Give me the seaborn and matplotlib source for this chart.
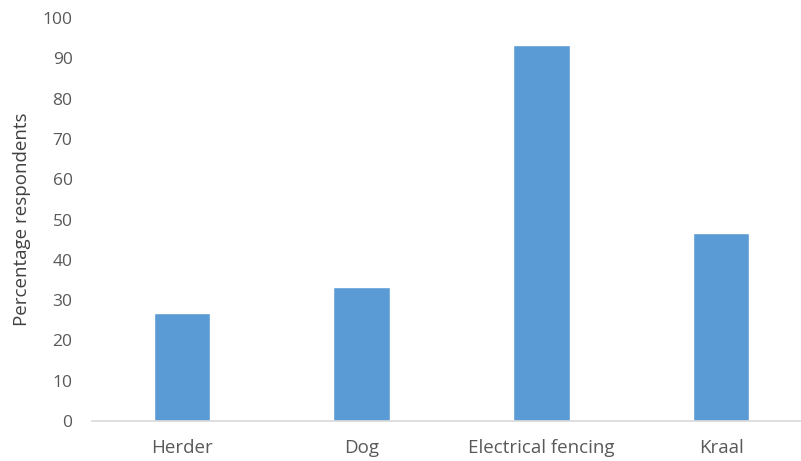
import matplotlib
matplotlib.use("Agg")
import matplotlib.pyplot as plt
import seaborn as sns
import pandas as pd

categories = ["Herder", "Dog", "Electrical fencing", "Kraal"]
percentages = [26.7, 33.3, 93.3, 46.7]
y_ticks = [0, 10, 20, 30, 40, 50, 60, 70, 80, 90, 100]

df = pd.DataFrame({"method": categories, "pct": percentages})

sns.set_style("white")
plt.rcParams["font.family"] = ["Open Sans", "DejaVu Sans"]

fig = plt.figure(figsize=(8.01, 4.61), dpi=100)
ax = fig.add_axes([92 / 801, 1 - 421 / 461, 1 - 92 / 801, (421 - 18) / 461])

sns.barplot(data=df, x="method", y="pct", color="#5B9BD5", saturation=1,
            width=0.315, ax=ax)

ax.set_xlim(-0.5, 3.445)
ax.set_ylim(0, 100)
ax.set_yticks(y_ticks)
ax.set_xlabel("")
ax.set_ylabel("Percentage respondents", fontsize=13.5, color="#404040", labelpad=8)
text_col = "#595959"
ax.tick_params(axis="y", length=0, labelsize=12.5, colors=text_col, pad=14)
ax.tick_params(axis="x", length=0, labelsize=13.5, colors=text_col, pad=13)
for s in ["top", "right", "left"]:
    ax.spines[s].set_visible(False)
ax.spines["bottom"].set_color("#D9D9D9")
ax.spines["bottom"].set_linewidth(1.2)

fig.savefig("out.png", dpi=100)
